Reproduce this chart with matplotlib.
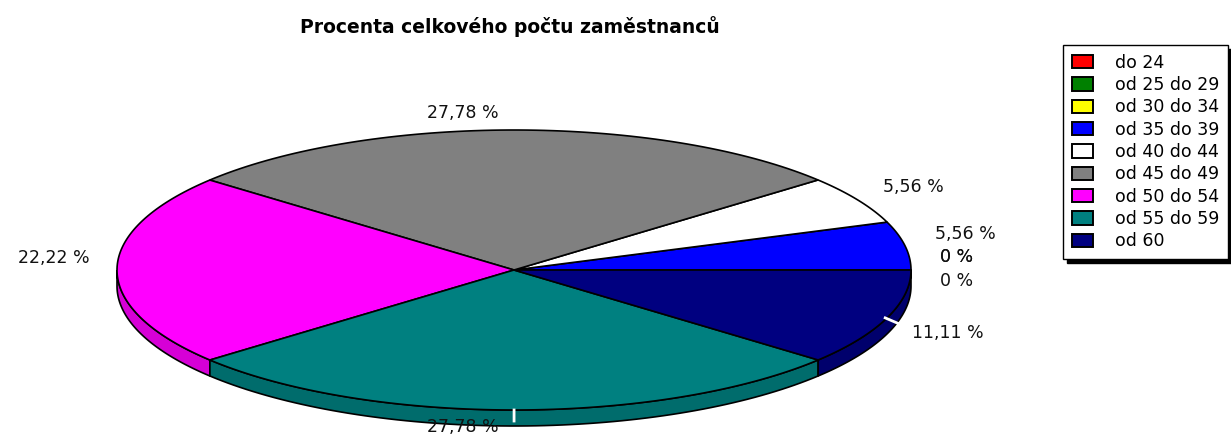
import numpy as np
import matplotlib.pyplot as plt
from matplotlib.patches import Polygon, Rectangle

categories = ["do 24", "od 25 do 29", "od 30 do 34", "od 35 do 39", "od 40 do 44",
              "od 45 do 49", "od 50 do 54", "od 55 do 59", "od 60"]
percent = [0, 0, 0, 5.56, 5.56, 27.78, 22.22, 27.78, 11.11]

colors = ["#ff0000", "#008000", "#ffff00", "#0000ff", "#ffffff",
          "#808080", "#ff00ff", "#008080", "#000080"]

# where the value labels sit (pixels) and how they are aligned
label_pos = [(940, 281), (940, 257), (940, 257), (935, 234), (883, 187),
             (463, 113), (90, 258), (463, 427), (912, 333)]
label_ha = ["left", "left", "left", "left", "left", "center", "right", "center", "left"]

W, H = 1231, 436
fig = plt.figure(figsize=(W / 100, H / 100), dpi=100)
ax = fig.add_axes([0, 0, 1, 1])
ax.set_xlim(0, W)
ax.set_ylim(H, 0)
ax.axis("off")

cx, cy, rx, ry, depth = 514, 270, 397, 140, 16

vals = np.array(percent)
edges = np.concatenate([[0], np.cumsum(vals)]) / vals.sum() * 2 * np.pi


def arc(a, b, n=80):
    t = np.linspace(a, b, n)
    return np.column_stack([cx + rx * np.cos(t), cy - ry * np.sin(t)])


def darker(c, f=0.84):
    r, g, b = [int(c[i:i + 2], 16) for i in (1, 3, 5)]
    return (r / 255 * f, g / 255 * f, b / 255 * f)


# side of the pie (front half only)
for i in range(len(vals)):
    a, b = max(edges[i], np.pi), min(edges[i + 1], 2 * np.pi)
    if b <= a:
        continue
    top = arc(a, b)
    bottom = top[::-1] + [0, depth]
    ax.add_patch(Polygon(np.vstack([top, bottom]), closed=True,
                         facecolor=darker(colors[i]), edgecolor="black", lw=1.2))

# top surface
for i in range(len(vals)):
    if vals[i] == 0:
        continue
    pts = np.vstack([[cx, cy], arc(edges[i], edges[i + 1]), [cx, cy]])
    ax.add_patch(Polygon(pts, closed=True, facecolor=colors[i],
                         edgecolor="black", lw=1.2))

# short white leader lines on the front slices
for i in range(len(vals)):
    m = (edges[i] + edges[i + 1]) / 2
    if vals[i] == 0 or np.sin(m) > -0.2:
        continue
    x0, y0 = cx + rx * np.cos(m), cy - ry * np.sin(m)
    ax.plot([x0 - 2 * np.cos(m), x0 + 16 * np.cos(m)],
            [y0, y0 + 11 - 4 * np.cos(m)], color="white", lw=2)

# value labels
for i, v in enumerate(percent):
    txt = "0 %" if v == 0 else f"{v:.2f}".replace(".", ",") + " %"
    x, y = label_pos[i]
    ax.text(x, y, txt, ha=label_ha[i], va="center", fontsize=12.5,
            family="DejaVu Sans", color="#111111")

ax.text(510, 27, "Procenta celkového počtu zaměstnanců", ha="center", va="center",
        fontsize=13.5, fontweight="bold", family="DejaVu Sans")

handles = [Rectangle((0, 0), 1, 1, facecolor=c, edgecolor="black", lw=1.4) for c in colors]
leg = ax.legend(handles, categories, loc="upper left",
                bbox_to_anchor=(1063 / W, 1 - 45 / H), bbox_transform=fig.transFigure,
                handlelength=1.2, handleheight=0.8, handletextpad=1.3,
                labelspacing=0.25, borderpad=0.5, borderaxespad=0,
                fancybox=False, shadow={"color": "black", "alpha": 1, "ox": 3, "oy": -3},
                prop={"family": "DejaVu Sans", "size": 12.5})
leg.get_frame().set_edgecolor("black")
leg.get_frame().set_linewidth(1.0)

fig.savefig("out.png", dpi=100)
